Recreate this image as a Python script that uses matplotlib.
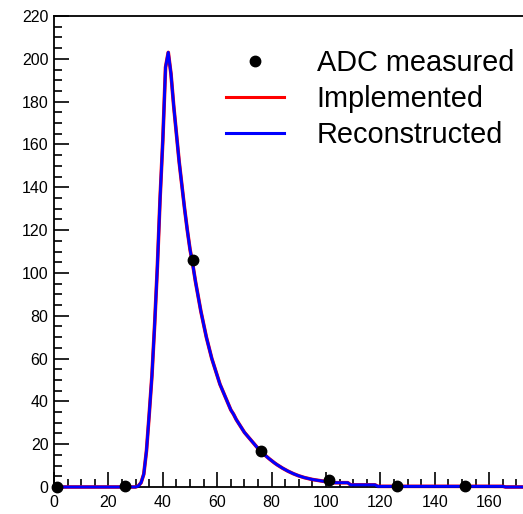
import matplotlib
matplotlib.use("Agg")
import matplotlib.pyplot as plt
from matplotlib.ticker import MultipleLocator

plt.rcParams['font.family'] = ['Liberation Sans', 'DejaVu Sans']

# ADC samples
adc_x = [1, 26, 51, 76, 101, 126, 151]
adc_y = [0, 0.5, 106, 17, 3.2, 0.5, 0.5]

# Pulse shape (read per unit from the picture)
rise_y = [0] * 31 + [0.5, 2, 6, 17, 34, 52, 76, 103, 135, 162, 196, 203]          # x = 0..42
fall_y = [193, 178, 165, 152, 141, 130, 120, 111, 104, 96, 89, 82, 76, 70, 65,     # x = 43..57
          60, 56, 52, 48, 45, 42, 39, 36, 34, 31.5, 29.5, 27.5, 25.5, 24, 22.5,   # x = 58..72
          21, 19.5, 18, 16.8, 15.6, 14.4, 13.3, 12.3, 11.3, 10.4, 9.6, 8.8, 8.1,  # x = 73..85
          7.4, 6.8, 6.2, 5.7, 5.2, 4.8, 4.4, 4.1, 3.8, 3.5, 3.3, 3.1, 2.9, 2.7,   # x = 86..99
          2.5]                                                                    # x = 100
tail_y = [2] * 8 + [1] * 10 + [0.3] * 47 + [0] * 7                                 # x = 101..172
curve_y = rise_y + fall_y + tail_y
curve_x = list(range(len(curve_y)))

legend_labels = ["ADC measured", "Implemented", "Reconstructed"]

fig = plt.figure(figsize=(5.23, 5.14), dpi=100)
ax = fig.add_axes([54 / 523, 27 / 514, 1 - 54 / 523, 471 / 514])

l_impl, = ax.plot(curve_x, curve_y, color='#ff0000', lw=2.6, clip_on=False, zorder=2)
l_reco, = ax.plot(curve_x, curve_y, color='#0000ff', lw=2.1, clip_on=False, zorder=3)
pts, = ax.plot(adc_x, adc_y, 'o', color='black', ms=7.5, clip_on=False, zorder=4, ls='none')

ax.set_xlim(0, 172.4)
ax.set_ylim(0, 220)

ax.xaxis.set_major_locator(MultipleLocator(20))
ax.xaxis.set_minor_locator(MultipleLocator(5))
ax.yaxis.set_major_locator(MultipleLocator(20))
ax.yaxis.set_minor_locator(MultipleLocator(5))
ax.tick_params(which='both', direction='in', top=False, right=False, width=1.2, colors='black')
ax.tick_params(which='major', length=11)
ax.tick_params(which='minor', length=5.5)
ax.tick_params(axis='both', labelsize=11.5)
ax.tick_params(axis='y', pad=4)
ax.tick_params(axis='x', pad=6)

for s in ['left', 'bottom', 'top']:
    ax.spines[s].set_linewidth(1.3)
ax.spines['right'].set_visible(False)

leg = ax.legend([pts, l_impl, l_reco], legend_labels, loc='upper left',
                bbox_to_anchor=(0.367, 0.93), frameon=False, fontsize=20.8,
                handlelength=2.0, handletextpad=1.14, labelspacing=0.28,
                borderaxespad=0, borderpad=0)
for h in leg.legend_handles:
    if hasattr(h, 'set_linewidth'):
        h.set_linewidth(2.2)

fig.savefig("out.png", dpi=100)
